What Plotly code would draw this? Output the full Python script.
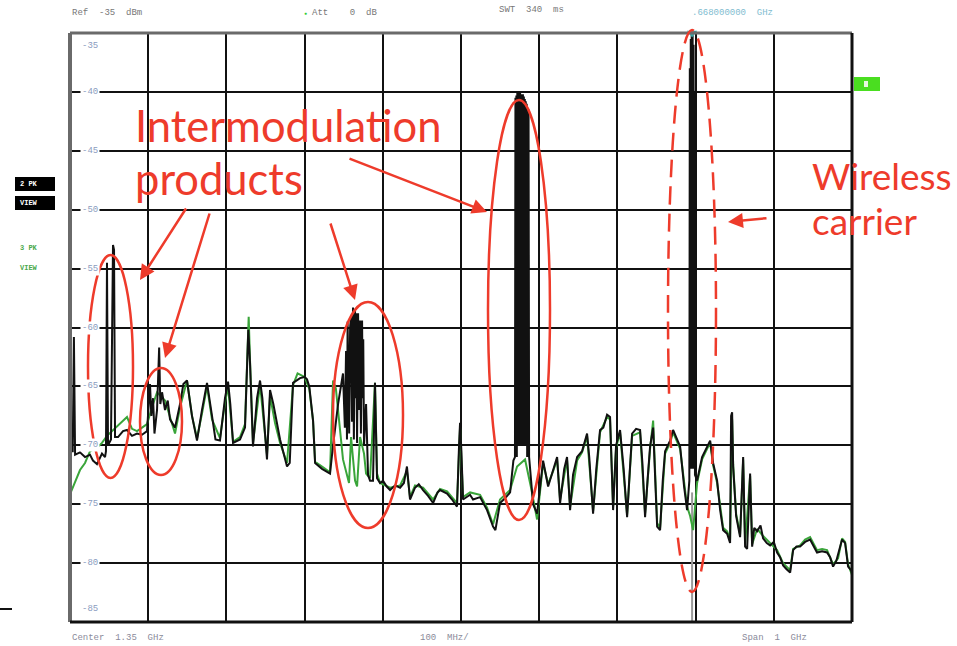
import plotly.graph_objects as go

# ---------------- data (MHz, dBm) ----------------
black_f = [850.0, 853.5, 855.0, 856.5, 862.8, 869.2, 875.6, 879.4, 884.5, 890.9, 894.8, 896.0, 897.3, 898.6,
           902.4, 904.0, 905.0, 906.3, 907.6, 911.4, 917.8, 922.9, 929.3, 935.7, 942.1, 948.5, 952.3, 954.0,
           956.2, 958.0, 961.3, 964.0, 965.5, 967.7, 971.5, 975.0, 977.9, 984.3, 990.7, 995.0, 999.6, 1006.0,
           1012.4, 1018.8, 1025.2, 1031.6, 1036.0, 1041.8, 1048.2, 1052.1, 1055.0, 1058.5, 1067.4, 1073.8,
           1078.0, 1080.2, 1084.0, 1089.2, 1093.0, 1096.0, 1101.9, 1105.8, 1110.0, 1118.6, 1127.5, 1131.0,
           1135.2, 1144.2, 1150.0, 1153.1, 1156.0, 1160.8, 1163.4, 1172.3, 1182.5, 1186.4, 1192.8, 1199.1,
           1201.5, 1203.0, 1204.2, 1205.0, 1206.0, 1207.0, 1208.2, 1209.4, 1210.6, 1211.9, 1213.0, 1214.5,
           1215.2, 1216.0, 1217.1, 1218.4, 1219.6, 1220.9, 1222.0, 1223.5, 1224.3, 1225.0, 1226.0, 1228.6,
           1231.1, 1233.7, 1237.5, 1240.0, 1242.6, 1246.5, 1250.3, 1255.0,
           1259.3, 1265.7, 1272.1, 1277.0, 1280.9, 1284.8, 1291.2, 1296.0, 1301.5, 1307.9, 1314.3, 1320.0,
           1323.2, 1332.2, 1338.6, 1344.9, 1347.5, 1348.8, 1350.5, 1352.6, 1361.6, 1365.4, 1374.4, 1383.3,
           1391.0, 1394.0, 1399.9, 1406.3, 1412.8, 1417.0,
           1419.0, 1419.6, 1420.2, 1420.8, 1421.4, 1422.0, 1422.6, 1423.2, 1423.8, 1424.4, 1425.0, 1425.6,
           1426.2, 1426.8, 1427.4, 1428.0, 1428.6, 1429.2, 1429.8, 1430.4, 1431.0, 1431.6, 1432.2, 1432.8,
           1433.4, 1434.0, 1434.6, 1436.4, 1437.1,
           1442.2, 1447.3, 1455.0,
           1461.4, 1467.8, 1472.9, 1476.7, 1482.0, 1485.6, 1489.5, 1493.3, 1498.5, 1504.8, 1511.2, 1514.0,
           1518.9, 1523.0, 1527.8, 1532.0, 1536.8, 1540.6, 1544.5, 1548.3, 1553.4, 1558.0, 1562.4, 1566.0,
           1568.8, 1573.9, 1579.0, 1582.0, 1585.4, 1588.5, 1591.8, 1595.7, 1598.0, 1600.8, 1604.6, 1608.0,
           1611.0, 1617.4, 1621.2, 1625.0, 1630.2, 1635.3, 1639.1, 1642.0,
           1642.6, 1643.2, 1643.8, 1644.4, 1645.0, 1645.6, 1646.2, 1646.8, 1647.4, 1648.0, 1648.6, 1649.2,
           1651.9, 1658.3, 1664.7, 1668.6, 1672.4, 1677.5, 1681.4, 1685.2, 1690.3,
           1694.1, 1695.4, 1696.7, 1698.0, 1701.8, 1706.9, 1710.8, 1713.3, 1715.9, 1719.7, 1722.3, 1725.0,
           1728.7, 1733.0, 1736.3, 1741.0, 1745.3, 1750.0, 1754.2, 1758.0, 1761.9, 1766.0, 1770.9, 1774.7,
           1779.0, 1783.6, 1790.0, 1796.4, 1800.0, 1805.3, 1811.7, 1818.1, 1822.0, 1825.8, 1830.0, 1837.3,
           1841.2, 1845.0, 1848.8, 1850.0]
black_db = [-70.5, -70.5, -60.8, -70.8, -70.6, -71.0, -70.8, -71.3, -71.6, -70.7, -71.0, -70.5, -54.5, -70.0,
            -69.5, -53.4, -53.0, -53.4, -69.3, -69.3, -68.8, -68.7, -69.2, -69.0, -69.1, -68.8, -64.8, -67.5,
            -66.0, -69.0, -67.0, -61.7, -66.5, -65.5, -67.0, -66.2, -67.8, -68.5, -66.5, -64.8, -64.5, -67.5,
            -69.6, -67.0, -64.7, -67.5, -69.5, -69.6, -66.0, -64.6, -66.5, -69.8, -69.5, -68.5,
            -60.2, -63.0, -70.1, -66.0, -64.5, -66.0, -71.2, -65.3, -66.5, -69.5, -71.8, -71.5,
            -64.7, -64.3, -64.2, -64.4, -65.0, -67.9, -71.5, -72.0, -72.4, -70.0, -66.5, -63.9,
            -68.5, -62.0, -69.5, -59.5, -66.0, -69.0, -60.0, -59.0, -68.0, -58.3, -69.5, -58.5,
            -66.0, -58.8, -69.8, -58.8, -67.0, -59.4, -69.0, -59.4, -66.0, -61.0, -70.0, -66.5,
            -72.5, -73.0, -73.0, -64.7, -72.8, -73.2, -73.0, -73.5,
            -73.8, -73.4, -73.6, -73.2, -71.8, -74.6, -73.6, -73.3, -73.8, -74.3, -74.9, -74.0,
            -73.8, -74.1, -74.6, -75.2, -70.0, -68.1, -70.5, -74.6, -74.2, -74.6, -74.4, -75.5,
            -76.9, -77.2, -74.9, -74.5, -74.0, -71.3,
            -71.0, -40.5, -71.0, -40.3, -71.0, -40.1, -70.0, -40.0, -70.0, -40.1, -70.0, -40.1,
            -70.0, -40.2, -70.0, -40.3, -70.0, -40.2, -70.0, -40.4, -70.0, -40.6, -70.0, -40.8,
            -60.0, -41.0, -71.0, -41.5, -71.0,
            -75.0, -75.8, -71.3,
            -73.5, -72.0, -71.0, -74.9, -72.0, -71.0, -75.5, -72.5, -71.0, -70.5, -69.0, -71.0,
            -75.8, -72.0, -68.7, -68.5, -67.4, -67.6, -75.5, -70.0, -68.7, -72.0, -76.1, -72.0,
            -69.0, -68.6, -68.7, -71.5, -76.1, -73.0, -70.1, -68.5, -72.0, -76.9, -77.2, -73.0,
            -70.5, -69.6, -68.7, -69.3, -70.1, -73.5, -75.5, -73.0,
            -38.0, -72.0, -35.5, -72.0, -35.0, -72.0, -35.2, -72.0, -36.0, -72.0, -40.0, -72.5,
            -73.0, -71.0, -70.1, -69.6, -71.5, -73.0, -75.5, -77.2, -77.5,
            -78.3, -67.5, -67.2, -71.8, -76.0, -77.8, -71.0, -78.6, -78.8, -72.4, -78.6, -77.0,
            -77.3, -76.8, -77.9, -78.3, -78.5, -78.2, -79.1, -79.5, -80.2, -80.5, -80.8, -78.9,
            -78.6, -78.6, -78.2, -78.0, -78.5, -79.1, -79.0, -79.1, -79.5, -80.3, -79.8, -78.0,
            -78.3, -80.3, -80.6, -80.8]

green_f = [851.0, 856.4, 862.8, 869.2, 875.6, 884.5, 890.9, 897.3, 905.0, 911.4, 917.8, 922.9, 929.3,
           935.7, 942.1, 948.5, 956.2, 961.3, 971.5, 977.9, 984.3, 990.7, 999.6, 1006.0, 1012.4, 1018.8,
           1025.2, 1031.6, 1041.8, 1048.2, 1052.1, 1058.5, 1067.4, 1073.8, 1078.5, 1080.2, 1084.0, 1093.0,
           1101.9, 1105.8, 1112.2, 1118.6, 1127.5, 1135.2, 1141.0, 1150.0, 1156.0, 1160.8, 1163.4, 1172.3,
           1182.5, 1186.4, 1190.0, 1199.1, 1206.8, 1209.4, 1214.5, 1217.1, 1220.9, 1226.0, 1228.6, 1233.7,
           1240.0, 1242.6, 1246.5, 1259.3, 1272.1, 1280.9, 1284.8, 1291.2, 1301.5, 1314.3, 1323.2, 1332.2,
           1344.9, 1348.8, 1352.6, 1361.6, 1374.4, 1383.3, 1391.0, 1399.9, 1412.8, 1421.7, 1431.9, 1439.6,
           1447.3, 1455.0, 1461.4, 1467.8, 1472.9, 1476.7, 1485.6, 1489.5, 1498.5, 1504.8, 1511.2, 1518.9,
           1527.8, 1536.8, 1540.6, 1544.5, 1548.3, 1553.4, 1562.4, 1568.8, 1579.0, 1585.4, 1591.8, 1595.7,
           1600.8, 1604.6, 1611.0, 1617.4, 1621.2, 1630.2, 1639.1, 1643.0, 1646.8, 1651.9, 1658.3, 1664.7,
           1668.6, 1672.4, 1677.5, 1685.2, 1690.3, 1694.1, 1696.7, 1698.0, 1701.8, 1706.9, 1710.8, 1713.3,
           1719.7, 1722.3, 1728.7, 1736.3, 1745.3, 1754.2, 1761.9, 1770.9, 1774.7, 1783.6, 1790.0, 1796.4,
           1805.3, 1811.7, 1818.1, 1825.8, 1832.2, 1837.3, 1841.2, 1845.0, 1850.0]
green_db = [-74.0, -73.2, -72.1, -71.5, -70.5, -70.2, -69.8, -69.2, -68.7, -68.3, -67.9, -67.6, -68.6,
            -68.8, -68.5, -68.2, -66.5, -65.5, -66.2, -67.5, -69.0, -66.8, -64.5, -67.5, -69.4, -67.3,
            -65.0, -67.8, -69.4, -66.4, -65.0, -69.7, -69.3, -68.2, -59.1, -62.8, -69.8, -64.8,
            -70.8, -65.8, -68.1, -69.8, -71.5, -64.9, -63.9, -64.2, -65.2, -67.9, -71.4, -71.8,
            -72.3, -64.5, -65.2, -71.2, -73.2, -69.3, -73.0, -73.5, -69.3, -70.7, -72.4, -72.8,
            -64.7, -72.4, -73.2, -73.6, -73.4, -72.2, -74.4, -73.4, -73.6, -74.6, -73.7, -73.9,
            -74.9, -68.5, -74.4, -74.0, -74.2, -75.3, -76.7, -74.6, -73.8, -71.8, -71.2, -73.6,
            -76.3, -71.5, -73.3, -72.2, -71.2, -74.6, -71.2, -75.2, -71.3, -70.6, -69.2, -75.6,
            -68.9, -67.6, -67.8, -75.2, -70.2, -68.9, -75.9, -69.2, -68.9, -75.8, -70.3, -67.9,
            -76.6, -77.0, -70.7, -69.8, -68.9, -70.3, -75.2, -76.0, -77.2, -73.2, -71.2, -70.3,
            -69.8, -71.7, -73.2, -77.0, -77.3, -78.0, -67.8, -71.6, -75.8, -77.6, -71.2, -78.4,
            -72.6, -78.4, -77.1, -77.7, -78.3, -78.9, -80.0, -80.6, -78.8, -78.5, -78.0, -77.8,
            -78.9, -78.8, -78.9, -80.1, -79.6, -77.9, -78.2, -80.1, -81.0]

marker_f = [1645.5, 1645.5]
marker_db = [-74.0, -85.0]

y_ticks = [-35, -40, -45, -50, -55, -60, -65, -70, -75, -80, -85]

# ---------------- geometry helpers (pixel -> paper) ----------------
W, H = 957, 646
L, R, T, B = 70, 852, 33, 622


def px(x):
    return (x - L) / (R - L)


def py(y):
    return (B - y) / (B - T)


fig = go.Figure()
fig.add_trace(go.Scatter(x=marker_f, y=marker_db, mode="lines",
                         line=dict(color="#9a9a9a", width=2), hoverinfo="skip", showlegend=False))
fig.add_trace(go.Scatter(x=green_f, y=green_db, mode="lines",
                         line=dict(color="#3aa53a", width=2), showlegend=False))
fig.add_trace(go.Scatter(x=black_f, y=black_db, mode="lines",
                         line=dict(color="#111111", width=2), showlegend=False))
fig.add_trace(go.Scatter(x=[marker_f[0]], y=[-35], mode="markers", cliponaxis=False,
                         marker=dict(symbol="triangle-down", size=9, color="#3aa6a6"),
                         showlegend=False))

red = "#ee3b2b"
shapes = []
# frame
shapes.append(dict(type="line", xref="paper", yref="paper", x0=0, x1=0, y0=0, y1=1,
                   line=dict(color="#6a6a6a", width=4)))
shapes.append(dict(type="line", xref="paper", yref="paper", x0=0, x1=1, y0=1, y1=1,
                   line=dict(color="#6a6a6a", width=3)))
shapes.append(dict(type="line", xref="paper", yref="paper", x0=1, x1=1, y0=0, y1=1,
                   line=dict(color="#111", width=3)))
shapes.append(dict(type="line", xref="paper", yref="paper", x0=0, x1=1, y0=0, y1=0,
                   line=dict(color="#111", width=3)))
# red ellipses
for (x0, y0, x1, y1, dash) in [(88, 255, 133, 478, "solid"), (140, 368, 182, 475, "solid"),
                               (333, 302, 403, 528, "solid"), (488, 100, 550, 520, "solid"),
                               (668, 30, 716, 592, "18px,9px")]:
    shapes.append(dict(type="circle", xref="paper", yref="paper", x0=px(x0), x1=px(x1),
                       y0=py(y1), y1=py(y0), line=dict(color=red, width=2.5, dash=dash)))
# left small dash
shapes.append(dict(type="line", xref="paper", yref="paper", x0=px(0), x1=px(12), y0=py(609), y1=py(609),
                   line=dict(color="#111", width=2)))
# green box right
shapes.append(dict(type="rect", xref="paper", yref="paper", x0=px(854), x1=px(880), y0=py(91), y1=py(77),
                   fillcolor="#4ade20", line=dict(width=0)))
shapes.append(dict(type="rect", xref="paper", yref="paper", x0=px(864), x1=px(868), y0=py(87), y1=py(81),
                   fillcolor="#e8f8e0", line=dict(width=0)))
# black boxes left
for yy in (184, 203):
    shapes.append(dict(type="rect", xref="paper", yref="paper", x0=px(15), x1=px(55), y0=py(yy + 7),
                       y1=py(yy - 7), fillcolor="#000", line=dict(width=0)))

ann = []
small = dict(family="Liberation Mono", size=9)
for i, v in enumerate(y_ticks):
    yanchor = "top" if i == 0 else ("bottom" if i == len(y_ticks) - 1 else "middle")
    ann.append(dict(xref="paper", yref="y", x=px(80), y=v, text=f"-{abs(v)}", showarrow=False,
                    xanchor="left", yanchor=yanchor, bgcolor="white", borderpad=1,
                    yshift=-6 if i == 0 else (6 if i == len(y_ticks) - 1 else 0),
                    font=dict(small, color="#8a9cc0")))

hdr = [(70, 13, "Ref  -35  dBm", "#777"), (310, 13, "Att    0  dB", "#777"),
       (497, 10, "SWT  340  ms", "#777"), (690, 13, ".668000000  GHz", "#7fbcd0"),
       (70, 638, "Center  1.35  GHz", "#8a8a9a"), (418, 638, "100  MHz/", "#8a8a9a"),
       (740, 638, "Span  1  GHz", "#8a8a9a")]
for (x, y, t, c) in hdr:
    ann.append(dict(xref="paper", yref="paper", x=px(x), y=py(y), text=t, showarrow=False,
                    xanchor="left", yanchor="middle", font=dict(small, color=c)))
ann.append(dict(xref="paper", yref="paper", x=px(305), y=py(13), text="●", showarrow=False,
                font=dict(size=5, color="#3c3"), xanchor="center", yanchor="middle"))
for (y, t, c) in [(184, "2 PK", "white"), (203, "VIEW", "white"), (248, "3 PK", "#4aa84a"),
                  (268, "VIEW", "#4aa84a")]:
    ann.append(dict(xref="paper", yref="paper", x=px(18), y=py(y), text=f"<b>{t}</b>", showarrow=False,
                    xanchor="left", yanchor="middle", font=dict(family="Liberation Mono", size=7, color=c)))

for (x, y, t, s) in [(133, 125, "Intermodulation", 43.5), (133, 178, "products", 43.5),
                     (810, 176, "Wireless", 37), (810, 220, "carrier", 37)]:
    ann.append(dict(xref="paper", yref="paper", x=px(x), y=py(y), text=t, showarrow=False,
                    xanchor="left", yanchor="middle", font=dict(family="Lato", size=s, color=red)))

for (tx, ty, hx, hy) in [(187, 207, 140, 280), (210, 212, 165, 358), (330, 222, 355, 300),
                         (348, 158, 487, 212), (768, 218, 728, 222)]:
    ann.append(dict(xref="paper", yref="paper", x=px(hx), y=py(hy), ax=tx - hx, ay=ty - hy,
                    axref="pixel", ayref="pixel", text="", showarrow=True, arrowhead=2,
                    arrowsize=1.2, arrowwidth=2.5, arrowcolor=red))

fig.update_layout(
    width=W, height=H, margin=dict(l=L, r=W - R, t=T, b=H - B),
    paper_bgcolor="white", plot_bgcolor="white",
    xaxis=dict(range=[850, 1850], dtick=100, tick0=850, showgrid=True, gridcolor="#111",
               gridwidth=2, showticklabels=False, zeroline=False, ticks=""),
    yaxis=dict(range=[-85, -35], dtick=5, tick0=-85, showgrid=True, gridcolor="#111",
               gridwidth=2, showticklabels=False, zeroline=False, ticks=""),
    shapes=shapes, annotations=ann, showlegend=False,
)
fig.write_html("out.html")
